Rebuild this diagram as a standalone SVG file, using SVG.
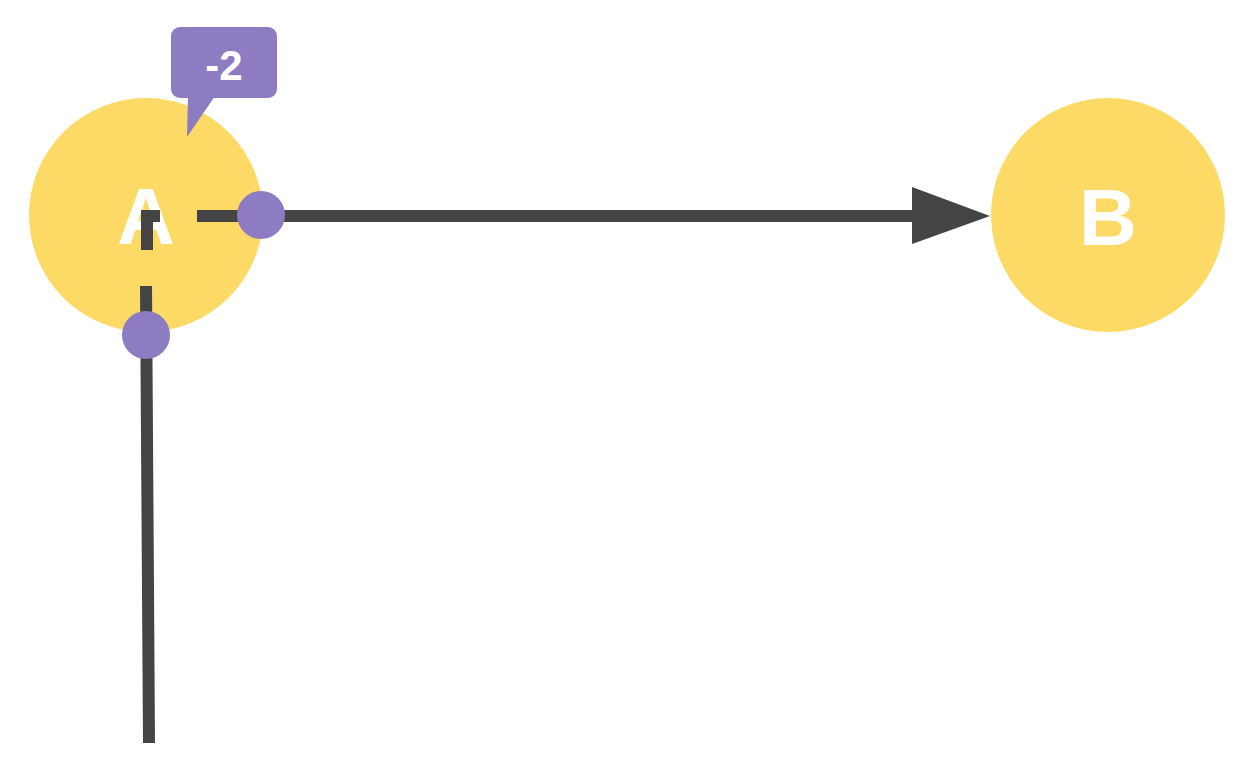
<svg xmlns="http://www.w3.org/2000/svg" width="1254" height="759" viewBox="0 0 1254 759">
  <style>
    .node { fill: #fdd966; }
    .label { fill: #ffffff; font-family: "Liberation Sans", Arial, sans-serif; font-weight: bold; text-anchor: middle; }
    .edge { stroke: #444444; stroke-width: 12; fill: none; stroke-linecap: butt; stroke-linejoin: miter; }
    .dot { fill: #8e7cc3; }
  </style>
  <rect width="1254" height="759" fill="#ffffff"/>
  <g id="node-A">
    <circle class="node" cx="146" cy="215" r="117"/>
    <text class="label" x="146" y="244" font-size="80">A</text>
  </g>
  <g id="node-B">
    <circle class="node" cx="1108" cy="215" r="117"/>
    <text class="label" x="1108" y="245" font-size="80">B</text>
  </g>
  <g id="connectors">
    <line class="edge" x1="149" y1="743" x2="146" y2="286"/>
    <polyline class="edge" points="147,250 147,216 160,216"/>
    <line class="edge" x1="197" y1="216" x2="912" y2="216"/>
    <polygon points="912,187 990,216 912,244" fill="#444444"/>
    <circle class="dot" cx="261" cy="215" r="24"/>
    <circle class="dot" cx="146" cy="335" r="24"/>
  </g>
  <g id="callout">
    <rect x="171" y="27" width="106" height="71" rx="9" fill="#8e7cc3"/>
    <polygon points="188,96 187,137 215,96" fill="#8e7cc3"/>
    <text class="label" x="224" y="80" font-size="42">-2</text>
  </g>
</svg>
